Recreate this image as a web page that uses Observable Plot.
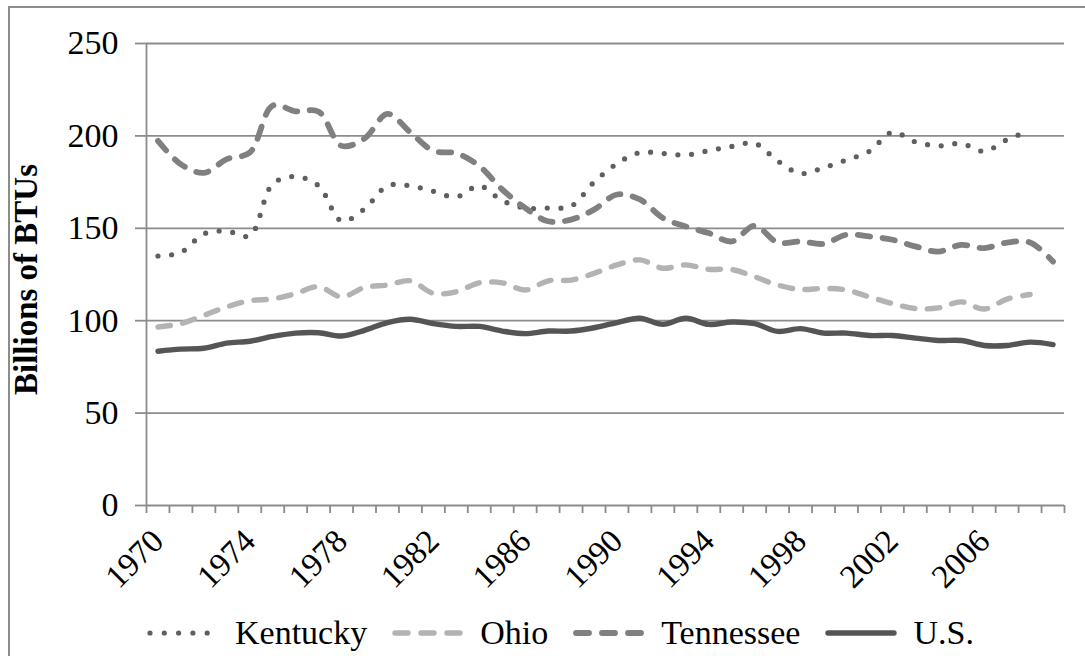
<!DOCTYPE html>
<html>
<head>
<meta charset="utf-8">
<script src="https://cdn.jsdelivr.net/npm/d3@7"></script>
<script src="https://cdn.jsdelivr.net/npm/@observablehq/plot@0.6"></script>
<style>
  html, body { margin: 0; padding: 0; background: #fff; width: 1085px; height: 656px; overflow: hidden; }
  #frame { position: absolute; left: 8px; top: 6px; width: 1200px; height: 800px;
           border-left: 2px solid #8c8c8c; border-top: 2px solid #8c8c8c; }
  #chart { position: absolute; left: 0; top: 0; }
  #chart svg, #chart svg text { font-family: "Liberation Serif", serif; }
  #legend { position: absolute; left: 147px; top: 613px; height: 40px; display: flex; align-items: center;
            font-family: "Liberation Serif", serif; font-size: 34px; color: #000; }
  #legend .item { display: flex; align-items: center; margin-right: 25px; }
  #legend svg { margin-right: 16px; }
  #legend span { line-height: 1; }
</style>
</head>
<body>
<div id="frame"></div>
<div id="chart"></div>
<div id="legend"></div>
<script>
const years = [1970,1971,1972,1973,1974,1975,1976,1977,1978,1979,
               1980,1981,1982,1983,1984,1985,1986,1987,1988,1989,
               1990,1991,1992,1993,1994,1995,1996,1997,1998,1999,
               2000,2001,2002,2003,2004,2005,2006,2007,2008,2009];
const kentucky = [135,137,147,148.5,146,174,178,173,154,160.5,
                  173,173,170,167,173,165,161,161,162,175,
                  185,191,190.5,189.7,192,194.3,196,186.5,179.7,182.8,
                  187,191.7,202,196.8,194.6,195.9,191.7,198,202.8,null];
const ohio = [96.6,98.4,102.9,107.5,110.8,111.8,114.7,118.4,112.9,118,
              119.3,121.6,114.8,115.7,120.5,120.5,116.6,121.6,122,125.6,
              130.2,132.9,128.4,130.2,127.8,127.7,123.8,119.3,116.9,117.5,
              116.6,112.9,109.3,106.6,106.9,110.2,106.3,111.7,114.2,null];
const tennessee = [197.3,184.6,180,187.4,191,216.4,213.3,213.1,194.6,198.6,
                   211.9,201.9,191.9,190.6,183.7,171,161,153.8,154.7,160.1,
                   168.3,165.6,155.6,151,147.4,142.9,151.4,142.3,142.9,141.6,
                   146.5,145.6,143.8,140.2,137.4,141,139.3,142.3,142.3,132];
const us = [83.5,84.6,85.1,87.9,88.9,91.5,93.3,93.5,91.7,94.8,
            99,100.8,98.4,96.9,96.9,94.4,93,94.4,94.4,96.2,
            99,101.3,98,101.3,98,99.3,98.4,94.2,95.7,93.3,
            93.3,92,92,90.6,89.3,89.3,86.6,86.6,88.4,87.1];
const yTicks = [0,50,100,150,200,250];
const xLabelYears = [1970,1974,1978,1982,1986,1990,1994,1998,2002,2006];
const yTitle = "Billions of BTUs";
const seriesNames = ["Kentucky","Ohio","Tennessee","U.S."];

const styles = {
  "Kentucky":  {stroke:"#5f5f5f", strokeWidth:5.2, strokeDasharray:"0 13.7"},
  "Ohio":      {stroke:"#b3b3b3", strokeWidth:5.4, strokeDasharray:"12.5 12.5"},
  "Tennessee": {stroke:"#808080", strokeWidth:5.8, strokeDasharray:"12.5 12.5"},
  "U.S.":      {stroke:"#555555", strokeWidth:5.4, strokeDasharray:null}
};
const valuesBy = {"Kentucky":kentucky, "Ohio":ohio, "Tennessee":tennessee, "U.S.":us};

const xDomain = [years[0]-0.5, years[years.length-1]+0.5];
const boundaries = years.map(y => y-0.5).concat([years[years.length-1]+0.5]);

const lineMarks = seriesNames.map(name => {
  const rows = years.map((yr,i) => ({year: yr, v: valuesBy[name][i]}));
  const s = styles[name];
  return Plot.line(rows, {x:"year", y:"v", stroke:s.stroke, strokeWidth:s.strokeWidth,
    strokeDasharray:s.strokeDasharray || undefined, strokeLinecap:"round", strokeLinejoin:"round",
    curve:"catmull-rom"});
});

const chart = Plot.plot({
  width: 1085, height: 560,
  marginLeft: 146, marginRight: 21, marginTop: 43, marginBottom: 55,
  x: {type:"linear", domain: xDomain},
  y: {domain: [0, 250]},
  style: {fontFamily: "Liberation Serif, serif", fontSize: "34px", background: "transparent", color: "#000", overflow: "visible"},
  marks: [
    Plot.gridY(yTicks.slice(1), {stroke:"#8c8c8c", strokeOpacity:1, strokeWidth:1.8}),
    Plot.ruleY(yTicks.slice(0,1), {stroke:"#8c8c8c", strokeWidth:1.8}),
    Plot.ruleX(xDomain.slice(0,1), {stroke:"#8c8c8c", strokeWidth:1.8}),
    Plot.axisY({ticks: yTicks, tickSize: 11, tickPadding: 17, stroke:"#8c8c8c", strokeWidth:1.8, fill:"#000", fontSize: 34, label: null}),
    Plot.axisX({ticks: boundaries, tickSize: 8, tickFormat: () => "", stroke:"#8c8c8c", strokeWidth:1.8, label: null}),
    Plot.axisX({ticks: xLabelYears, tickSize: 0, tickPadding: 30, tickRotate: -45, tickFormat: d => String(d), fill:"#000", fontSize: 33, label: null}),
    Plot.text([yTitle], {text: d => d, frameAnchor:"left", textAnchor:"middle", rotate:-90, dx:-120, dy:5, fontWeight:"bold", fontSize:33, fill:"#000"}),
    ...lineMarks
  ]
});
document.getElementById("chart").appendChild(chart);

// legend
const legend = d3.select("#legend");
seriesNames.forEach(name => {
  const s = styles[name];
  const item = legend.append("div").attr("class","item");
  const svg = item.append("svg").attr("width",72).attr("height",14);
  svg.append("line").attr("x1", 3).attr("x2", 69).attr("y1",7).attr("y2",7)
     .attr("stroke", s.stroke).attr("stroke-width", s.strokeWidth)
     .attr("stroke-linecap","round")
     .attr("stroke-dasharray", name === "Kentucky" ? "0 14.3" : (s.strokeDasharray ? "13 13" : null));
  item.append("span").text(name);
});
</script>
</body>
</html>
